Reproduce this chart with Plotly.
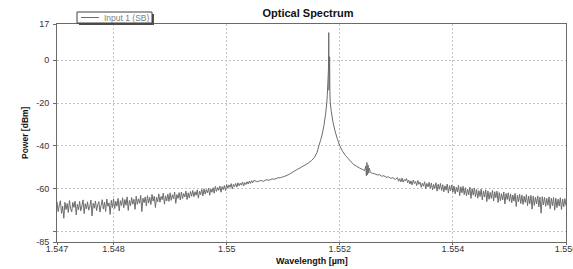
import numpy as np
import plotly.graph_objects as go

# ---------------- data ----------------
# Left noisy tail: sampled every 0.00002 um starting at 1.547 um
left_start_um = 1.547
sample_step_um = 0.00002
left_power_dbm = [
    -66.1, -70.8, -67.9, -65.7, -71.6, -68.3, -73.9, -66.4, -69.8, -67.0,
    -71.2, -65.6, -69.4, -70.9, -66.5, -68.8, -65.9, -72.3, -67.4, -69.9,
    -66.0, -70.4, -68.2, -65.3, -71.7, -67.1, -69.5, -66.2, -70.1, -68.6,
    -65.4, -72.8, -66.9, -69.2, -65.8, -70.3, -67.5, -66.1, -71.0, -67.8,
    -65.2, -69.6, -66.4, -70.7, -64.9, -68.3, -66.7, -72.1, -65.5, -68.9,
    -64.8, -69.3, -66.0, -68.2, -64.6, -70.5, -65.7, -67.9, -64.3, -69.0,
    -65.1, -67.8, -63.9, -70.2, -65.6, -68.0, -64.2, -67.3, -65.0, -69.7,
    -63.6, -67.4, -64.8, -66.9, -63.2, -70.8, -64.5, -66.6, -63.9, -68.1,
    -63.3, -66.8, -64.1, -67.5, -62.7, -65.9, -63.6, -68.9, -64.0, -66.2,
    -62.5, -66.4, -63.7, -65.2, -62.1, -67.3, -63.4, -65.8, -62.6, -66.0,
    -62.0, -65.5, -62.9, -64.8, -61.7, -66.9, -62.8, -64.6, -61.9, -65.3,
    -61.6, -64.7, -62.3, -63.9, -61.2, -65.1, -62.0, -64.4, -61.4, -63.6,
    -60.9, -63.8, -61.5, -63.1, -60.6, -64.5, -61.2, -62.8, -60.4, -63.4,
    -60.1, -62.6, -60.5, -62.0, -59.8, -63.1, -60.2, -61.7, -59.6, -62.2,
    -59.0, -61.3, -59.5, -60.8, -58.8, -61.7, -59.1, -60.5, -58.6, -60.9,
    -58.1, -59.9, -58.3, -59.4, -57.7, -60.2, -58.0, -59.1, -57.6, -59.3,
    -57.3, -58.7, -57.5, -58.4, -56.9, -58.8, -57.2, -58.1, -56.8, -57.9,
    -56.5, -57.6, -56.3, -57.3, -56.2,
]

# Central part around the laser line
peak_wavelength_um = [
    1.55055, 1.55060, 1.55065, 1.55070, 1.55075, 1.55080, 1.55085, 1.55090,
    1.55095, 1.55100, 1.55105, 1.55110, 1.55115, 1.55120, 1.55125, 1.55130,
    1.55135, 1.55140, 1.55145, 1.55150, 1.55155, 1.55160, 1.55163, 1.55166,
    1.55169, 1.55172, 1.55175, 1.55177, 1.55178, 1.55179, 1.55180, 1.551805,
    1.55181, 1.551815, 1.55182, 1.551825, 1.55183, 1.55185, 1.55188, 1.55192,
    1.55196, 1.55200, 1.55205, 1.55210, 1.55215, 1.55220, 1.55225, 1.55230,
    1.55235, 1.55240, 1.55244, 1.55246, 1.55247, 1.55248, 1.55249, 1.55250,
    1.55251, 1.55252, 1.55254, 1.55258, 1.55262, 1.55266, 1.55270, 1.55274,
    1.55278, 1.55282, 1.55286, 1.55290, 1.55294, 1.55298,
]
peak_power_dbm = [
    -56.8, -56.2, -56.6, -55.9, -56.1, -55.5, -55.6, -55.0,
    -54.9, -54.5, -54.0, -53.4, -52.6, -51.8, -51.0, -50.3,
    -49.5, -48.8, -47.9, -46.9, -45.5, -43.0, -40.0, -37.5,
    -34.5, -30.5, -25.0, -20.0, -16.0, -10.0, -4.0, 13.0,
    -14.0, -6.0, 1.7, -14.0, -19.5, -24.0, -29.0, -33.5,
    -37.0, -40.0, -42.6, -44.5, -46.0, -47.5, -48.8, -49.6,
    -50.4, -51.0, -51.6, -49.5, -54.0, -47.8, -53.5, -49.0,
    -52.8, -50.4, -52.4, -52.9, -53.1, -53.6, -53.5, -54.2,
    -54.0, -54.7, -54.5, -55.2, -54.9, -55.8,
]

# Right noisy tail: sampled every 0.00002 um starting at 1.55302 um
right_start_um = 1.55302
right_power_dbm = [
    -54.9, -56.6, -55.4, -56.9, -55.1, -57.0, -55.7, -56.4, -55.3, -57.3,
    -56.1, -57.9, -56.4, -58.3, -56.0, -57.6, -56.7, -58.6, -56.2, -58.0,
    -57.0, -59.4, -57.5, -58.9, -56.8, -60.1, -57.6, -59.2, -57.1, -59.8,
    -57.4, -60.6, -58.1, -59.9, -57.3, -61.2, -58.0, -60.3, -57.6, -60.9,
    -58.2, -61.5, -58.7, -60.8, -57.9, -62.1, -58.6, -61.0, -58.3, -61.7,
    -58.8, -62.5, -59.4, -61.6, -58.5, -63.3, -59.2, -62.0, -58.9, -62.8,
    -59.6, -63.4, -60.2, -62.9, -59.3, -64.6, -60.0, -63.1, -59.7, -63.8,
    -60.4, -64.5, -61.0, -63.7, -60.2, -65.3, -61.1, -64.0, -60.6, -66.1,
    -61.1, -65.0, -61.8, -64.6, -60.9, -65.8, -61.5, -64.3, -61.2, -66.5,
    -61.9, -65.7, -62.4, -65.3, -61.6, -67.2, -62.3, -65.1, -62.0, -66.0,
    -62.5, -66.6, -63.0, -65.9, -62.2, -68.4, -63.1, -66.2, -62.7, -67.0,
    -63.0, -67.4, -63.6, -66.5, -62.8, -68.0, -63.5, -67.1, -63.2, -69.6,
    -63.6, -67.9, -64.1, -67.2, -63.4, -68.6, -64.0, -71.5, -63.8, -67.6,
    -64.1, -68.3, -64.6, -67.8, -63.9, -69.4, -64.5, -68.0, -64.2, -70.1,
    -64.5, -68.9, -65.0, -68.2, -64.3, -69.8, -64.9, -68.5, -64.7, -68.0,
]

x_tick_vals = [1.547, 1.548, 1.55, 1.552, 1.554, 1.556]
x_tick_text = ["1.547", "1.548", "1.55", "1.552", "1.554", "1.556"]
y_tick_vals = [17, 0, -20, -40, -60, -80, -85]
y_tick_text = ["17", "0", "-20", "-40", "-60", "", "-85"]

series_name = "Input 1 (SB)"

# ---------------- assemble the trace ----------------
left_wl = np.round(left_start_um + sample_step_um * np.arange(len(left_power_dbm)), 6)
right_wl = np.round(right_start_um + sample_step_um * np.arange(len(right_power_dbm)), 6)
wavelength = np.concatenate([left_wl, peak_wavelength_um, right_wl])
power = np.concatenate([left_power_dbm, peak_power_dbm, right_power_dbm])

W, H = 573, 269
PL, PR, PT, PB = 57, 566, 24, 242  # plot area in pixels


def px(xp):
    return (xp - PL) / (PR - PL)


def py(yp):
    return (PB - yp) / (PB - PT)


FONT = "Liberation Sans, Arial, sans-serif"
LINE = "#6c6c6c"

fig = go.Figure()
fig.add_trace(go.Scatter(
    x=wavelength, y=power, mode="lines", name=series_name,
    line=dict(color=LINE, width=1, simplify=False),
    showlegend=False, hoverinfo="x+y",
))

axis_common = dict(
    showline=True, mirror=True, linecolor="#6a6a6a", linewidth=1,
    ticks="outside", tickcolor="#6a6a6a",
    showgrid=True, gridcolor="#c4c4c4", griddash="2px,2px", gridwidth=1,
    zeroline=False, tickfont=dict(family=FONT, size=9, color="#333333"),
    ticklabeloverflow="allow",
)
fig.update_xaxes(range=[1.547, 1.556], tickmode="array",
                 tickvals=x_tick_vals, ticktext=x_tick_text, ticklen=2,
                 ticklabelstandoff=-4, **axis_common)
fig.update_yaxes(range=[-85, 17], tickmode="array",
                 tickvals=y_tick_vals, ticktext=y_tick_text, ticklen=3,
                 ticklabelstandoff=2, **axis_common)

# legend box drawn by hand (small boxed key with a drop shadow)
lx0, lx1, ly0, ly1 = 77, 152, 12, 23
shapes = [
    dict(type="rect", xref="paper", yref="paper",
         x0=px(lx0 + 2), x1=px(lx1 + 2), y0=py(ly1 + 2), y1=py(ly0 + 2),
         line=dict(width=0), fillcolor="#505050", layer="above"),
    dict(type="rect", xref="paper", yref="paper",
         x0=px(lx0), x1=px(lx1), y0=py(ly1), y1=py(ly0),
         line=dict(width=1, color="#404040"), fillcolor="white", layer="above"),
    dict(type="line", xref="paper", yref="paper",
         x0=px(lx0 + 4), x1=px(lx0 + 22), y0=py((ly0 + ly1) / 2), y1=py((ly0 + ly1) / 2),
         line=dict(width=1, color=LINE), layer="above"),
]
annotations = [
    dict(text=series_name, xref="paper", yref="paper",
         x=px(lx0 + 25), y=py((ly0 + ly1) / 2), xanchor="left", yanchor="middle",
         showarrow=False, font=dict(family=FONT, size=8.5, color="#808080")),
    dict(text="<b>Power [dBm]</b>", xref="paper", yref="paper",
         x=px(25), y=py(133), xanchor="center", yanchor="middle", textangle=-90,
         showarrow=False, font=dict(family=FONT, size=8.5, color="#111111")),
    dict(text="<b>Wavelength [µm]</b>", xref="paper", yref="paper",
         x=px(312), y=py(260.5), xanchor="center", yanchor="middle",
         showarrow=False, font=dict(family=FONT, size=9, color="#111111")),
]

fig.update_layout(
    width=W, height=H,
    margin=dict(l=PL, r=W - PR, t=PT, b=H - PB, autoexpand=False),
    paper_bgcolor="white", plot_bgcolor="white",
    title=dict(text="<b>Optical Spectrum</b>", xref="container", yref="container",
               x=308 / W, y=1 - 13 / H, xanchor="center", yanchor="middle",
               font=dict(family=FONT, size=11, color="#111111")),
    shapes=shapes, annotations=annotations,
    showlegend=False,
)

fig.write_html(
    "out.html",
    config={"displayModeBar": False},
    post_script="document.body.style.margin='0';document.body.style.overflow='hidden';",
)
